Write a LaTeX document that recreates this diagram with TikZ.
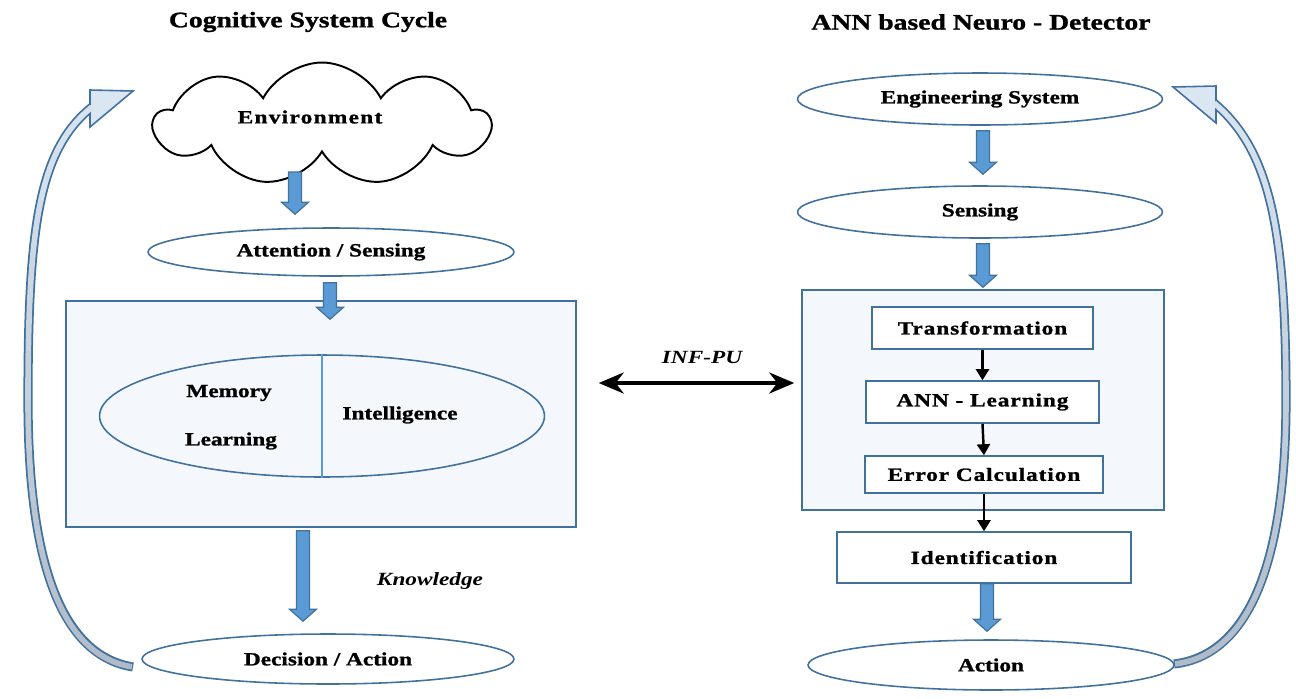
\documentclass[tikz,border=0pt]{standalone}
\usepackage{fontspec}
\newfontfamily\figfont{Liberation Serif}[FakeStretch=1.25,BoldFeatures={FakeBold=1.2}]
\usetikzlibrary{arrows.meta,shapes.geometric,shapes.symbols,calc}
\definecolor{edgeblue}{HTML}{41719C}
\definecolor{arrowblue}{HTML}{5B9BD5}
\definecolor{panelfill}{HTML}{F4F8FC}
\definecolor{curvetop}{HTML}{DAE6F2}
\definecolor{curvebot}{HTML}{ADB9C6}
\tikzset{
  oval/.style={ellipse,draw=edgeblue,line width=0.9pt,fill=white,inner sep=0pt},
  panel/.style={rectangle,draw=edgeblue,line width=0.9pt,fill=panelfill,inner sep=0pt},
  stepbox/.style={rectangle,draw=edgeblue,line width=0.9pt,fill=white,inner sep=0pt},
  lbl/.style={font=\figfont\fontsize{10.6}{12}\selectfont\bfseries},
  spaced/.style={font=\figfont\fontsize{10.6}{12}\selectfont\bfseries\addfontfeatures{LetterSpace=5}},
  heading/.style={font=\figfont\fontsize{12.6}{14}\selectfont\bfseries},
  note/.style={font=\figfont\fontsize{10.6}{12}\selectfont\bfseries\itshape},
  blockflow/.style={draw=edgeblue,line width=0.7pt,fill=arrowblue},
  thinflow/.style={draw=black,line width=1.4pt,-{Triangle[length=0.22cm,width=0.26cm]}},
  linkarrow/.style={draw=black,line width=2.2pt,{Stealth[length=0.5cm,width=0.42cm]}-{Stealth[length=0.5cm,width=0.42cm]}},
  curveedge/.style={draw=edgeblue,line width=5.2pt},
  curvehead/.style={draw=edgeblue,line width=0.9pt,fill=curvetop,line join=miter}
}
\newcommand{\blockarrow}[2]{%
  \draw[blockflow] let \p1=(#1), \p2=(#2) in
    (\x1-0.13cm,\y1) -- (\x1+0.13cm,\y1) -- (\x1+0.13cm,\y2+0.24cm)
    -- (\x1+0.27cm,\y2+0.24cm) -- (\x1,\y2) -- (\x1-0.27cm,\y2+0.24cm)
    -- (\x1-0.13cm,\y2+0.24cm) -- cycle;}
\newcommand{\leftcurve}{(lfoot) .. controls (60,655) and (28,560) .. (28,400)
  .. controls (28,230) and (38,150) .. (ltip)}
\newcommand{\rightcurve}{(rfoot) .. controls (1250,655) and (1286,560) .. (1286,400)
  .. controls (1286,230) and (1270,150) .. (rtip)}
\begin{document}
\begin{tikzpicture}[x=0.02cm,y=-0.02cm]
\useasboundingbox (0,0) rectangle (1296,698);
% titles
\node (ltitle) [heading] at (308,22) {Cognitive System Cycle};
\node (rtitle) [heading] at (981,22) {ANN based Neuro - Detector};
%
% cognitive cycle
\node (env) [cloud,draw=black,line width=1.1pt,cloud puffs=9,cloud puff arc=125,aspect=2.7,
  minimum width=6.7cm,minimum height=2.46cm,inner sep=0pt] at (322,124) {};
\node (envtext) [font=\figfont\fontsize{10.6}{12}\selectfont\bfseries\addfontfeatures{LetterSpace=7}] at (310,117) {Environment};
\node (att) [oval,minimum width=7.32cm,minimum height=0.96cm,lbl] at (331,252) {Attention / Sensing};
\node (lbox) [panel,minimum width=10.2cm,minimum height=4.52cm] at (321,414) {};
\node (core) [ellipse,draw=edgeblue,line width=0.9pt,minimum width=8.9cm,minimum height=2.44cm,inner sep=0pt] at (322,416) {};
\draw[arrowblue,line width=0.6pt] (core.north) -- (core.south);
\node (mem) [lbl] at (229,393) {Memory};
\node (learn) [lbl] at (231,441) {Learning};
\node (intel) [lbl] at (400,415) {Intelligence};
\node (dec) [oval,minimum width=7.44cm,minimum height=1.0cm,lbl] at (328,659) {Decision / Action};
\node (know) [note] at (430,581) {Knowledge};
%
\blockarrow{$(env.center)+(-27,48)$}{$(att.north)+(-36,-13)$}
\blockarrow{$(att.south)+(-1,6)$}{$(lbox.north)+(9,19)$}
\blockarrow{$(lbox.south)+(-18,3)$}{$(dec.north)+(-25,-12)$}
%
% neuro detector
\node (eng) [oval,minimum width=7.3cm,minimum height=1.04cm,lbl] at (980,99) {Engineering System};
\node (sens) [oval,minimum width=7.3cm,minimum height=1.04cm,lbl] at (980,212) {Sensing};
\node (rbox) [panel,minimum width=7.24cm,minimum height=4.4cm] at (983,400) {};
\node (trans) [stepbox,minimum width=4.42cm,minimum height=0.84cm,spaced] at (982.5,328) {Transformation};
\node (ann) [stepbox,minimum width=4.66cm,minimum height=0.84cm,spaced] at (982.5,402) {ANN - Learning};
\node (err) [stepbox,minimum width=4.76cm,minimum height=0.74cm,spaced] at (984,474.5) {Error Calculation};
\node (ident) [stepbox,minimum width=5.88cm,minimum height=1.02cm,spaced] at (984,557.5) {Identification};
\node (act) [oval,minimum width=7.32cm,minimum height=1.0cm,lbl] at (991,665) {Action};
%
\blockarrow{$(eng.south)+(3,5)$}{$(sens.north)+(3,-11)$}
\blockarrow{$(sens.south)+(3,5)$}{$(rbox.north)+(0,-2)$}
\blockarrow{$(ident.south)+(3,0)$}{$(act.north)+(-4,-8)$}
\draw[thinflow] (trans.south) -- (ann.north);
\draw[thinflow] (ann.south) -- (err.north);
\draw[thinflow] (err.south) -- (ident.north);
%
% link between the two
\draw[linkarrow] ($(lbox.east)+(22,-31)$) -- ($(rbox.west)+(-7,-17)$);
\node (infpu) [note] at (702,357) {INF-PU};
%
% feedback curves
\coordinate (lfoot) at (133,667);
\coordinate (ltip) at (92,107);
\coordinate (rfoot) at (1174,664);
\coordinate (rtip) at (1214,103);
\draw[curveedge] \leftcurve;
\draw[curveedge] \rightcurve;
\draw[curvehead] (90,90) -- (133,91) -- (90,127) -- cycle;
\draw[curvehead] (1216,86) -- (1173,87) -- (1216,123) -- cycle;
\foreach \i in {0,...,12} {
  \pgfmathtruncatemacro\pc{100-\i*8}
  \begin{scope}
    \clip (0,50+\i*50) rectangle (1296,100+\i*50);
    \draw[curvetop!\pc!curvebot,line width=3.2pt,shorten <=0.6pt] \leftcurve;
    \draw[curvetop!\pc!curvebot,line width=3.2pt,shorten <=0.6pt] \rightcurve;
  \end{scope}
}
\end{tikzpicture}
\end{document}
